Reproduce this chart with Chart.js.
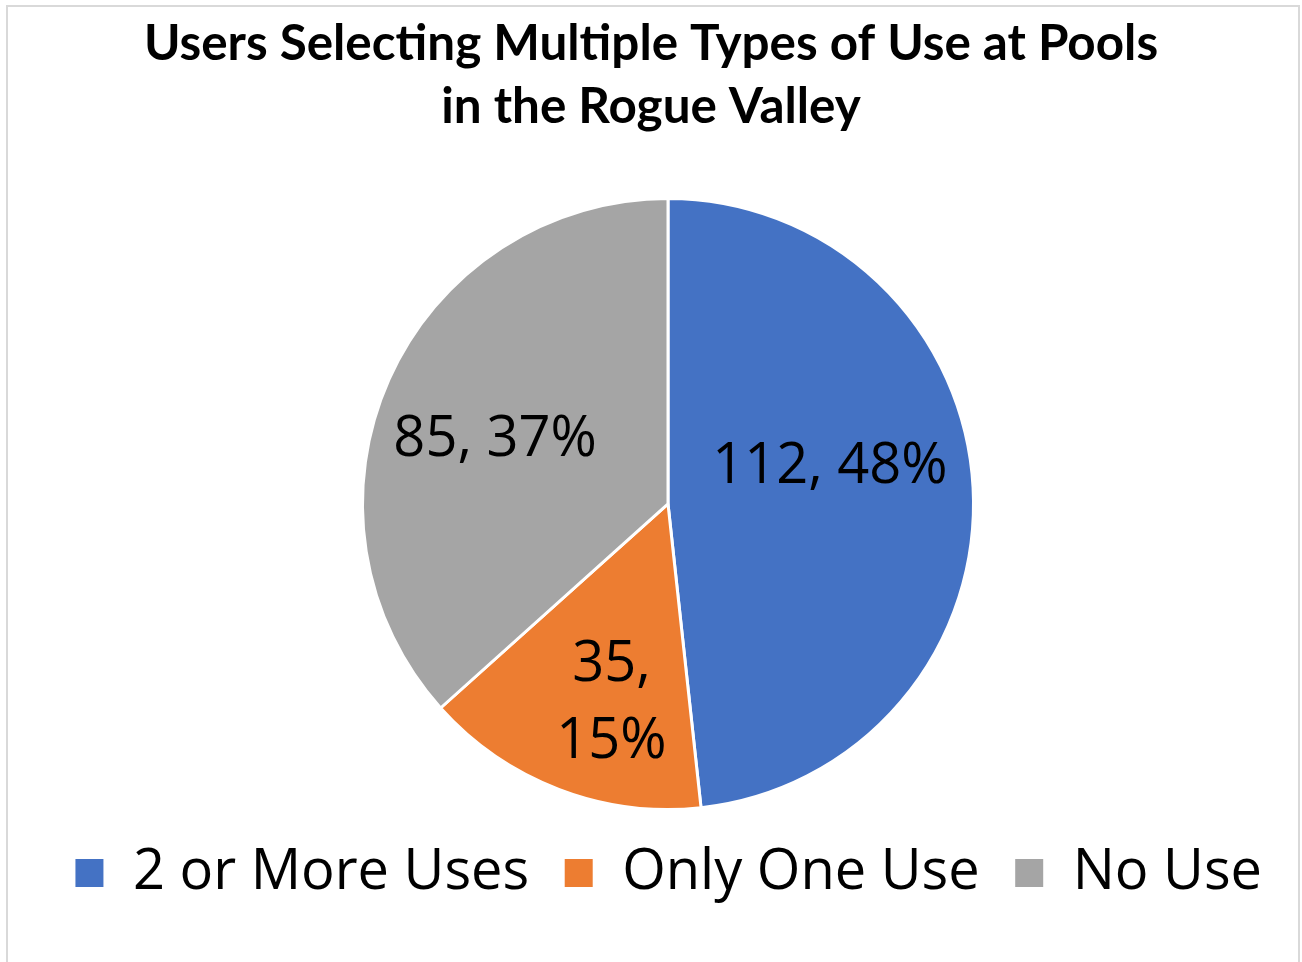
<!DOCTYPE html>
<html>
<head>
<meta charset="utf-8">
<script src="https://cdn.jsdelivr.net/npm/chart.js@4.4.0/dist/chart.umd.min.js"></script>
<style>
  html, body { margin: 0; padding: 0; background: #fff; overflow: hidden; }
  #wrap { position: relative; width: 1302px; height: 962px; }
  #frame { position: absolute; left: 6px; top: 5px; width: 1290px; height: 1000px;
           border: 2px solid #d9d9d9; pointer-events: none; }
</style>
</head>
<body>
<div id="wrap">
  <canvas id="poolsChart" width="1302" height="962"></canvas>
  <div id="frame"></div>
</div>
<script>
const categories = ['2 or More Uses', 'Only One Use', 'No Use'];
const userCounts = [112, 35, 85];
const percentLabels = ['48%', '15%', '37%'];
const sliceColors = ['#4472C4', '#ED7D31', '#A5A5A5'];

// draws "value, pct" inside each slice (offsets are fractions of the radius)
const sliceLabels = {
    id: 'sliceLabels',
    afterDatasetsDraw(chart, args, opts) {
        const ctx = chart.ctx;
        const meta = chart.getDatasetMeta(0);
        ctx.save();
        ctx.font = opts.font;
        ctx.fillStyle = '#000';
        ctx.textAlign = 'center';
        ctx.textBaseline = 'middle';
        meta.data.forEach((arc, i) => {
            const r = arc.outerRadius;
            const off = opts.offsets[i];
            const x = arc.x + off[0] * r;
            const y = arc.y + off[1] * r;
            const value = chart.data.datasets[0].data[i];
            if (opts.wrap[i]) {
                ctx.fillText(value + ',', x, y - opts.lineHeight / 2);
                ctx.fillText(percentLabels[i], x, y + opts.lineHeight / 2);
            } else {
                ctx.fillText(value + ', ' + percentLabels[i], x, y);
            }
        });
        ctx.restore();
    }
};

// title is centred on the canvas, not on the padded layout
const titleShift = {
    id: 'titleShift',
    afterLayout(chart) {
        const t = chart.titleBlock;
        if (t) { t.left -= 17; t.right -= 17; }
    }
};

const poolsChart = new Chart(document.getElementById('poolsChart').getContext('2d'), {
    type: 'pie',
    data: {
        labels: categories,
        datasets: [{
            data: userCounts,
            backgroundColor: sliceColors,
            borderColor: '#ffffff',
            borderWidth: 3
        }]
    },
    plugins: [sliceLabels, titleShift],
    options: {
        responsive: false,
        animation: false,
        layout: {
            padding: { left: 34, right: 0, top: 0, bottom: 51 }
        },
        plugins: {
            title: {
                display: true,
                text: ['Users Selecting Multiple Types of Use at Pools', 'in the Rogue Valley'],
                color: '#000',
                font: { family: 'Lato', size: 49.4, weight: 'bold', lineHeight: 1.275 },
                padding: { top: 13, bottom: 58 }
            },
            legend: {
                position: 'bottom',
                labels: {
                    color: '#000',
                    font: { family: 'Open Sans', size: 56 },
                    boxWidth: 31,
                    boxHeight: 31,
                    padding: 34
                }
            },
            tooltip: { enabled: false },
            sliceLabels: {
                font: '56px "Open Sans"',
                lineHeight: 77,
                offsets: [[0.53, -0.12], [-0.185, 0.652], [-0.566, -0.209]],
                wrap: [false, true, false]
            }
        }
    }
});
</script>
</body>
</html>
